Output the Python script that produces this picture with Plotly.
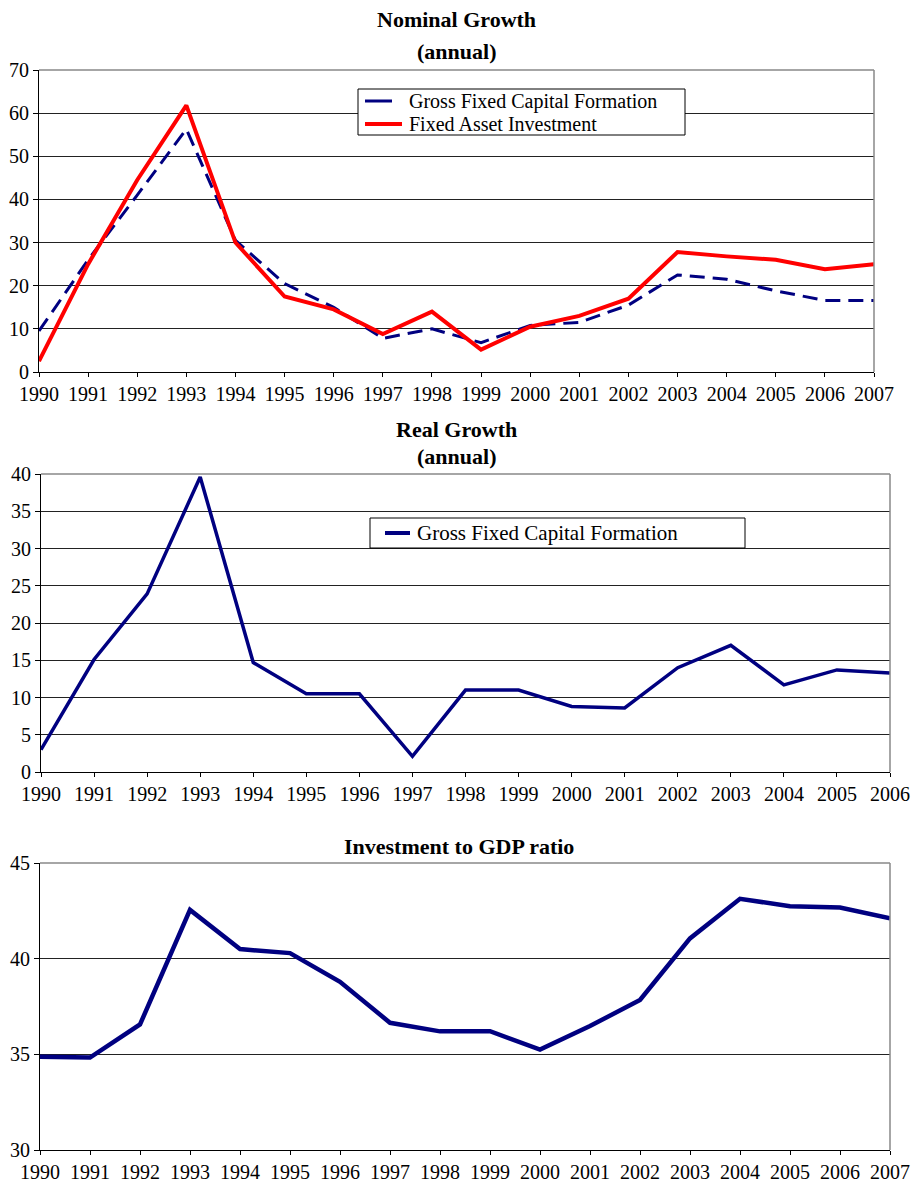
import plotly.graph_objects as go

years_nom = list(range(1990, 2008))
gfcf_nominal = [9.5, 26, 41, 56.3, 30.5, 20.5, 15, 7.8, 10, 6.8, 10.8, 11.5, 15.5, 22.5, 21.5, 18.8, 16.6, 16.6]
fai_nominal = [2.5, 25, 44.5, 61.8, 30, 17.5, 14.5, 8.8, 14, 5.2, 10.5, 13, 17, 27.8, 26.8, 26, 23.8, 25]

years_real = list(range(1990, 2007))
gfcf_real = [3.0, 15.1, 23.9, 39.6, 14.7, 10.5, 10.5, 2.1, 11.0, 11.0, 8.8, 8.6, 14.0, 17.0, 11.7, 13.7, 13.3]

years_ratio = list(range(1990, 2008))
inv_gdp_ratio = [34.87, 34.83, 36.56, 42.55, 40.5, 40.29, 38.79, 36.65, 36.2, 36.21, 35.25, 36.48, 37.84, 41.06, 43.13, 42.74, 42.67, 42.11]

W, H = 912, 1183
FONT = "Liberation Serif"
NAVY = "#000080"
RED = "#ff0000"

def fx(p):
    return p / W

def fy(p):
    return 1 - p / H

def px_x(a, b):
    return [fx(a), fx(b)]

def px_y(top, bottom):
    return [fy(bottom), fy(top)]

fig = go.Figure()

fig.add_trace(go.Scatter(x=years_nom, y=gfcf_nominal, mode="lines", name="Gross Fixed Capital Formation",
                         line=dict(color=NAVY, width=3, dash="15px,8px"), xaxis="x", yaxis="y"))
fig.add_trace(go.Scatter(x=years_nom, y=fai_nominal, mode="lines", name="Fixed Asset Investment",
                         line=dict(color=RED, width=4), xaxis="x", yaxis="y"))
fig.add_trace(go.Scatter(x=years_real, y=gfcf_real, mode="lines", name="Gross Fixed Capital Formation",
                         line=dict(color=NAVY, width=3.5), xaxis="x2", yaxis="y2"))
fig.add_trace(go.Scatter(x=years_ratio, y=inv_gdp_ratio, mode="lines", name="Investment to GDP ratio",
                         line=dict(color=NAVY, width=4.5), xaxis="x3", yaxis="y3"))

tickfont = dict(family=FONT, size=20, color="black")

def xax(domain, anchor, years):
    return dict(domain=domain, anchor=anchor, range=[years[0], years[-1]], tickvals=years,
                ticktext=[str(y) for y in years], ticks="outside", ticklen=4, tickcolor="black",
                showline=True, linecolor="black", linewidth=1, showgrid=False, zeroline=False,
                tickfont=tickfont, fixedrange=True, automargin=False)

def yax(domain, anchor, rng, dtick):
    return dict(domain=domain, anchor=anchor, range=rng, dtick=dtick, ticks="outside", ticklen=5,
                tickcolor="black", showline=True, linecolor="black", linewidth=1, showgrid=True,
                gridcolor="#222222", gridwidth=1, zeroline=False, tickfont=tickfont, fixedrange=True,
                automargin=False)

fig.update_layout(
    template="none",
    width=W, height=H, autosize=False,
    margin=dict(l=0, r=0, t=0, b=0, pad=0),
    paper_bgcolor="white", plot_bgcolor="white",
    font=dict(family=FONT, color="black"),
    showlegend=False,
    xaxis=xax(px_x(39, 874), "y", years_nom),
    yaxis=yax(px_y(70, 372), "x", [0, 70], 10),
    xaxis2=xax(px_x(41, 890), "y2", years_real),
    yaxis2=yax(px_y(474, 772), "x2", [0, 40], 5),
    xaxis3=xax(px_x(40, 890), "y3", years_ratio),
    yaxis3=yax(px_y(863, 1150), "x3", [30, 45], 5),
)

# plot-area frames (grey top/right edges as in the reference)
for xr, yr in [("x", "y"), ("x2", "y2"), ("x3", "y3")]:
    fig.add_shape(type="line", xref=f"{xr} domain", yref=f"{yr} domain", x0=0, x1=1, y0=1, y1=1,
                  line=dict(color="#888888", width=1.5), layer="above")
    fig.add_shape(type="line", xref=f"{xr} domain", yref=f"{yr} domain", x0=1, x1=1, y0=0, y1=1,
                  line=dict(color="#888888", width=1.5), layer="above")

# legend boxes (drawn in paper space so they sit exactly where the reference has them)
def legend_box(x0, x1, y0, y1, items, fsize):
    fig.add_shape(type="rect", xref="paper", yref="paper", x0=fx(x0), x1=fx(x1), y0=fy(y1), y1=fy(y0),
                  line=dict(color="black", width=1), fillcolor="white", layer="above")
    for (lx0, lx1, ly, color, width, tx, label) in items:
        fig.add_shape(type="line", xref="paper", yref="paper", x0=fx(lx0), x1=fx(lx1), y0=fy(ly), y1=fy(ly),
                      line=dict(color=color, width=width), layer="above")
        fig.add_annotation(text=label, x=fx(tx), y=fy(ly), xref="paper", yref="paper",
                           xanchor="left", yanchor="middle", showarrow=False,
                           font=dict(family=FONT, size=fsize, color="black"))

legend_box(358, 685, 89, 135, [
    (365, 392, 101, NAVY, 3, 407, "Gross Fixed Capital Formation"),
    (365, 402, 124, RED, 4, 407, "Fixed Asset Investment"),
], 20)
legend_box(370, 745, 518, 548, [
    (385, 410, 533, NAVY, 4, 415, "Gross Fixed Capital Formation"),
], 21)

titles = [("<b>Nominal Growth</b>", 456, 20), ("<b>(annual)</b>", 456, 52),
          ("<b>Real Growth</b>", 456, 429), ("<b>(annual)</b>", 456, 457),
          ("<b>Investment to GDP ratio</b>", 459, 846)]
for txt, cx, cy in titles:
    fig.add_annotation(text=txt, x=fx(cx), y=fy(cy), xref="paper", yref="paper",
                       xanchor="center", yanchor="middle", showarrow=False,
                       font=dict(family=FONT, size=22, color="black"))

fig.write_html("out.html", config={"displayModeBar": False},
               post_script="document.body.style.margin='0px';document.documentElement.style.overflow='hidden';")
